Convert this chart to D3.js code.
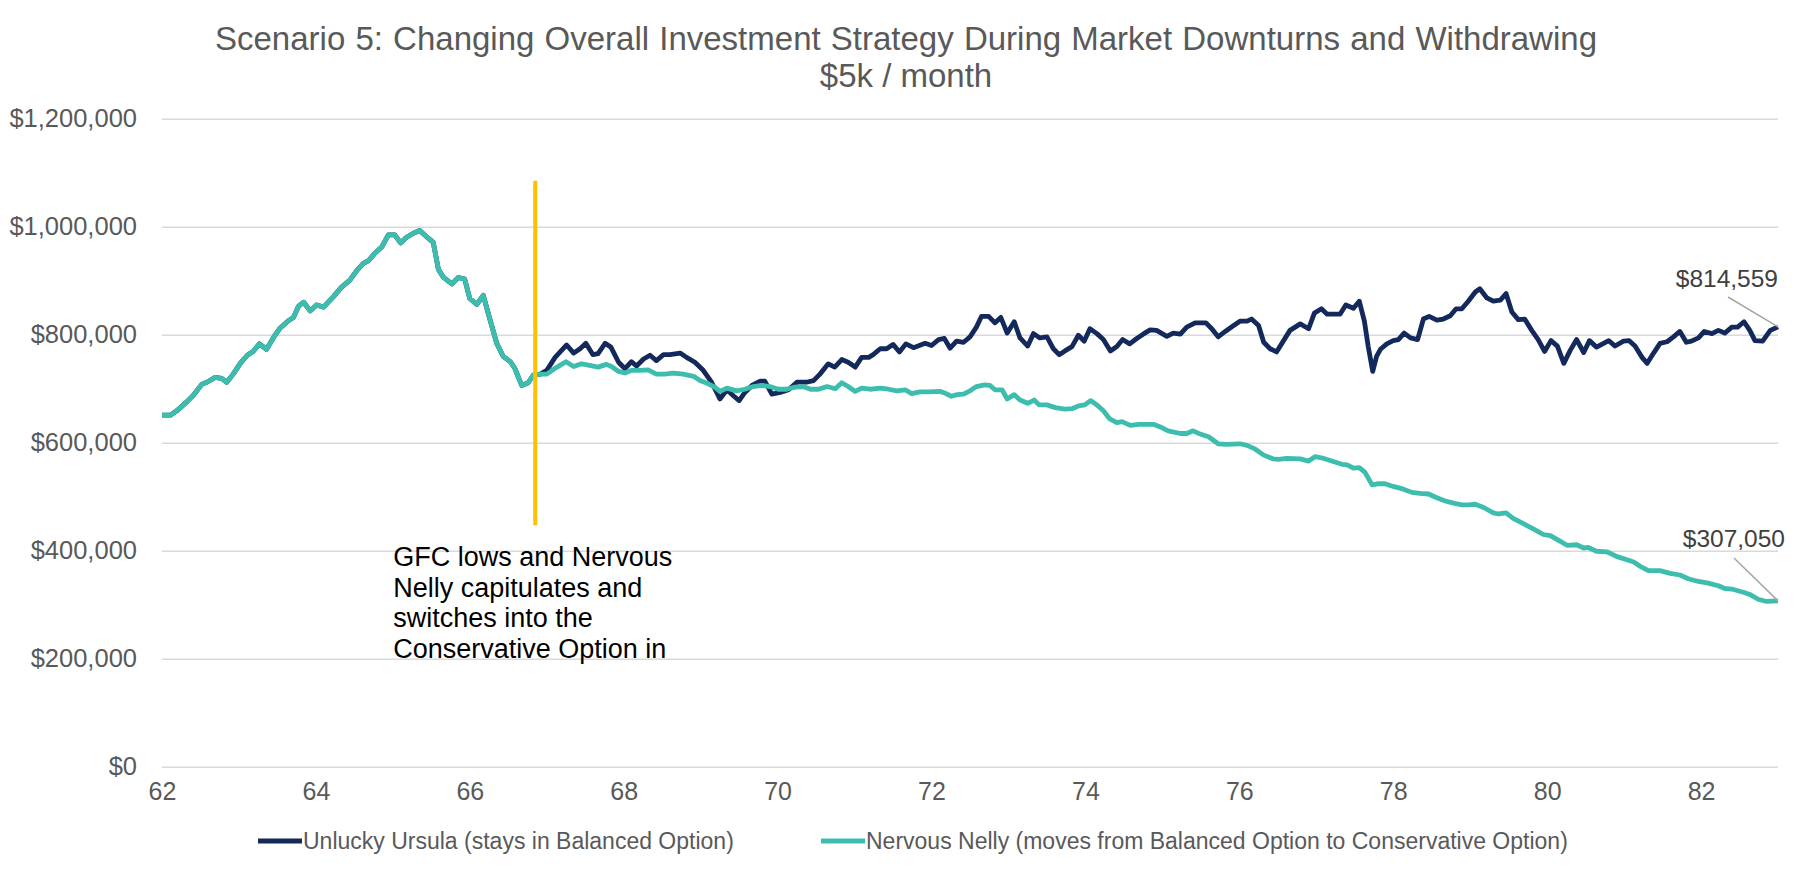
<!DOCTYPE html>
<html>
<head>
<meta charset="utf-8">
<script src="https://cdn.jsdelivr.net/npm/d3@7"></script>
<style>
  body { margin: 0; background: #fff; }
  text { font-family: "Liberation Sans", Arial, sans-serif; }
</style>
</head>
<body>
<div id="plot"></div>
<script>
// values in $k, [month since age 62, value]
const sharedPath = [
  [0, 651], [1.3, 651], [2.3, 659], [3.9, 676], [4.9, 688], [6.2, 708], [7, 712], [8.3, 721],
  [9.3, 719], [10.1, 712], [11.1, 727], [12.2, 747], [13.3, 762], [14.2, 769], [15.2, 783],
  [16.3, 773], [17.4, 795], [18.4, 812], [19.7, 826], [20.5, 832], [21.3, 853], [22.1, 860],
  [23.1, 844], [24.1, 855], [25.2, 851], [26.7, 870], [28, 888], [29.3, 901], [30.4, 919],
  [31.4, 932], [32.2, 937], [33.2, 951], [34.3, 963], [35.3, 985], [36.3, 985], [37.2, 970],
  [38.1, 980], [39.2, 988], [40.2, 993], [41.3, 981], [42.3, 971], [43.1, 921], [43.9, 906],
  [45.2, 894], [46.2, 906], [47.2, 903], [48, 867], [49.1, 856], [50.1, 873], [51.1, 830],
  [52.2, 784], [53.2, 760], [54.3, 750], [55, 738], [56.1, 706], [57.1, 711], [57.9, 725], [59, 727]
];

const ursulaAfter = [
  [60, 734], [61.3, 758], [63.1, 781], [64.2, 766], [65.2, 774], [66.1, 784], [67.2, 763], [68, 765],
  [69.1, 784], [70, 777], [71.2, 749], [72.2, 737], [73.2, 750], [74, 742], [75.1, 755], [76.1, 762],
  [77.1, 752], [78.2, 763], [79.2, 763], [80.8, 766], [81.8, 758], [83.1, 749], [84.4, 734],
  [85.7, 712], [87, 681], [88.1, 698], [89.1, 687], [90, 678], [90.9, 693], [92, 706], [93.3, 714],
  [94, 714], [95.1, 690], [96.4, 693], [97.7, 698], [99, 712], [100.5, 712], [101.6, 715],
  [102.6, 727], [103.9, 746], [104.9, 740], [106, 754], [107, 749], [108.1, 740], [109.1, 758],
  [110.2, 758], [110.9, 763], [112, 774], [113, 774], [114, 782], [115, 768], [116, 783],
  [117.2, 776], [117.9, 779], [119, 784], [120, 780], [121.1, 791], [122, 793], [122.9, 775],
  [123.9, 788], [125, 786], [126, 796], [127, 814], [127.8, 834], [128.9, 834], [129.9, 822],
  [130.8, 832], [131.8, 803], [132.9, 824], [133.8, 794], [135, 779], [135.9, 802], [136.9, 794],
  [138, 796], [139, 774], [139.9, 763], [140.8, 770], [141.9, 778], [142.9, 799], [143.8, 788],
  [144.7, 811], [145.8, 802], [146.8, 791], [147.9, 770], [148.9, 778], [149.8, 791], [150.9, 783],
  [152, 793], [153, 801], [154.1, 809], [155.1, 808], [156.7, 797], [157.7, 803], [158.8, 801],
  [159.8, 814], [161.1, 822], [162.8, 822], [163.7, 811], [164.7, 796], [165.8, 806], [167, 816],
  [168.1, 825], [169.2, 825], [169.9, 829], [171, 817], [171.8, 786], [172.8, 774], [173.8, 768],
  [174.9, 789], [175.9, 808], [177.5, 820], [178.8, 811], [179.7, 840], [180.8, 848], [181.7, 838],
  [183.7, 838], [184.6, 855], [185.8, 849], [186.7, 862], [187.5, 825], [188.1, 778], [188.8, 732],
  [189.4, 760], [190, 773], [191, 783], [192, 789], [192.8, 791], [193.7, 803], [194.7, 794],
  [195.8, 791], [196.7, 829], [197.6, 834], [198.8, 827], [199.8, 829], [200.9, 835], [201.8, 848],
  [202.7, 848], [203.7, 862], [204.8, 879], [205.5, 885], [206.6, 868], [207.6, 862], [208.7, 864],
  [209.6, 876], [210.5, 842], [211.5, 828], [212.5, 829], [213.6, 808], [214.6, 791], [215.6, 769],
  [216.6, 789], [217.6, 779], [218.6, 747], [219.6, 771], [220.6, 791], [221.7, 767], [222.6, 789],
  [223.7, 777], [224.8, 784], [225.6, 789], [226.6, 779], [227.9, 788], [228.8, 789], [229.7, 779],
  [230.8, 758], [231.6, 747], [232.6, 766], [233.6, 784], [234.7, 787], [235.7, 796], [236.7, 806],
  [237.7, 786], [238.5, 788], [239.6, 794], [240.5, 806], [241.7, 802], [242.7, 808], [243.7, 803],
  [244.8, 814], [245.7, 814], [246.7, 824], [247.6, 808], [248.4, 789], [249.6, 788], [250.8, 808],
  [252, 814.559]
];

const nellyAfter = [
  [60, 727], [61.6, 740], [63, 750], [64.2, 741], [65.4, 746], [66.7, 743], [68, 740], [69.3, 745],
  [70.1, 741], [71.2, 732], [72.2, 729], [73.2, 734], [74.5, 734], [75.8, 735], [77.1, 727],
  [78.4, 727], [79.7, 729], [81.3, 727], [82.9, 723], [83.9, 715], [85.2, 709], [86.2, 703],
  [87, 695], [88.1, 701], [89.6, 696], [90.9, 699], [92.2, 704], [93.5, 706], [94.8, 704],
  [96.1, 699], [97.4, 699], [98.7, 703], [100, 704], [101.1, 699], [102.4, 699], [103.7, 704],
  [105, 700], [106, 711], [107, 704], [108.1, 695], [109.1, 701], [110.4, 699], [112, 701],
  [113.3, 699], [114.6, 696], [115.9, 698], [116.9, 691], [118.2, 694], [119.5, 694], [121.3, 695],
  [122.1, 692], [123.1, 686], [124, 689], [125, 690], [126, 696], [127, 704], [128.3, 707],
  [129.1, 706], [129.9, 698], [131, 698], [131.8, 681], [132.9, 689], [133.8, 679], [135, 673],
  [136, 679], [136.8, 670], [138, 670], [139.3, 665], [140.8, 662], [141.9, 663], [142.9, 668],
  [143.9, 670], [144.8, 678], [145.8, 670], [146.8, 659], [147.8, 644], [148.9, 637], [149.7, 639],
  [151, 632], [152.3, 634], [154.6, 634], [155.9, 628], [156.9, 622], [158.8, 617], [159.8, 617],
  [160.8, 622], [161.9, 616], [163.2, 611], [164.7, 598], [166, 597], [168.1, 598], [169.2, 595],
  [170.5, 588], [171.8, 577], [173.3, 570], [174.1, 569], [175.4, 571], [177.5, 570], [178.8, 566],
  [179.8, 574], [180.8, 572], [182.4, 566], [184, 560], [184.8, 559], [185.8, 553], [186.7, 554],
  [187.6, 545], [188.7, 522], [189.7, 524], [190.7, 524], [192, 519], [193.6, 514], [194.9, 508],
  [196.2, 506], [197.5, 505], [198.8, 498], [200.1, 492], [201.4, 488], [202.7, 485], [203.7, 485],
  [204.8, 486], [206.1, 480], [207.6, 470], [208.4, 468], [209.6, 470], [210.7, 460], [212.3, 450],
  [213.9, 440], [215.4, 430], [216.5, 428], [217.8, 419], [219.1, 410], [220.6, 411], [221.7, 405],
  [222.4, 406], [223.7, 399], [225.3, 398], [226.9, 389], [228.2, 384], [229.5, 379], [230.5, 371],
  [231.8, 363], [233.6, 363], [235.2, 358], [236.7, 355], [238, 348], [239.6, 343], [241.1, 340],
  [242.7, 335], [243.7, 330], [244.8, 329], [246.6, 323], [247.6, 319], [248.9, 310], [250.2, 306],
  [252, 307.05]
];

const seriesNames = [
  "Unlucky Ursula (stays in Balanced Option)",
  "Nervous Nelly (moves from Balanced Option to Conservative Option)"
];
const seriesColors = ["#14295b", "#3dbdad"];
const yTicks = [0, 200000, 400000, 600000, 800000, 1000000, 1200000];
const xTicks = [62, 64, 66, 68, 70, 72, 74, 76, 78, 80, 82];
const switchAge = 66.85;
const switchRange = [447000, 1085000];
const noteLines = ["GFC lows and Nervous", "Nelly capitulates and", "switches into the", "Conservative Option in"];

const W = 1812, H = 873;
const margin = { top: 118.7, right: 34, bottom: 106.3, left: 162 };

const svg = d3.select("#plot").append("svg").attr("width", W).attr("height", H);

const x = d3.scaleLinear().domain([62, 83]).range([margin.left, W - margin.right]);
const y = d3.scaleLinear().domain([0, 1200000]).range([H - margin.bottom, margin.top]);

// title
svg.append("text")
  .attr("x", 906).attr("y", 50)
  .attr("text-anchor", "middle")
  .style("font-size", "33px").style("fill", "#595959").style("word-spacing", "1px")
  .text("Scenario 5: Changing Overall Investment Strategy During Market Downturns and Withdrawing");
svg.append("text")
  .attr("x", 906).attr("y", 87)
  .attr("text-anchor", "middle")
  .style("font-size", "33px").style("fill", "#595959")
  .text("$5k / month");

// y grid + labels
const yAxis = svg.append("g")
  .attr("transform", `translate(${margin.left},0)`)
  .call(d3.axisLeft(y).tickValues(yTicks)
    .tickSize(-(W - margin.left - margin.right))
    .tickPadding(25)
    .tickFormat(d => "$" + d3.format(",")(d)));
yAxis.select(".domain").remove();
yAxis.selectAll(".tick line").attr("stroke", "#d9d9d9").attr("stroke-width", 1.6);
yAxis.selectAll(".tick text").style("font-size", "25.5px").style("fill", "#595959")
  .style("font-family", "'Liberation Sans', Arial, sans-serif");

// x labels
const xAxis = svg.append("g")
  .attr("transform", `translate(0,${H - margin.bottom})`)
  .call(d3.axisBottom(x).tickValues(xTicks).tickSize(0).tickPadding(16));
xAxis.select(".domain").remove();
xAxis.selectAll(".tick text").style("font-size", "25px").style("fill", "#595959")
  .style("font-family", "'Liberation Sans', Arial, sans-serif");

const line = d3.line()
  .x(d => x(62 + d[0] / 12))
  .y(d => y(d[1] * 1000));

const ursula = sharedPath.concat(ursulaAfter);
const nelly = sharedPath.concat(nellyAfter);

svg.append("path").datum(ursula)
  .attr("d", line).attr("fill", "none")
  .attr("stroke", seriesColors[0]).attr("stroke-width", 4.8).attr("stroke-linejoin", "round");
svg.append("path").datum(nelly)
  .attr("d", line).attr("fill", "none")
  .attr("stroke", seriesColors[1]).attr("stroke-width", 4.8).attr("stroke-linejoin", "round");

// switch marker
svg.append("line")
  .attr("x1", x(switchAge)).attr("x2", x(switchAge))
  .attr("y1", y(switchRange[0])).attr("y2", y(switchRange[1]))
  .attr("stroke", "#ffc000").attr("stroke-width", 4);

const note = svg.append("text")
  .attr("x", x(switchAge) - 142).attr("y", 566)
  .style("font-size", "27px").style("fill", "#000");
note.selectAll("tspan").data(noteLines).enter().append("tspan")
  .attr("x", x(switchAge) - 142)
  .attr("dy", (d, i) => i === 0 ? 0 : 30.7)
  .text(d => d);

// end labels
const endLabels = [
  { d: ursula[ursula.length - 1], text: "$814,559", tx: 1778, ty: 287, lx: 1728, ly: 297 },
  { d: nelly[nelly.length - 1], text: "$307,050", tx: 1785, ty: 547, lx: 1734, ly: 558 }
];
endLabels.forEach(l => {
  svg.append("line")
    .attr("x1", l.lx).attr("y1", l.ly)
    .attr("x2", x(62 + l.d[0] / 12)).attr("y2", y(l.d[1] * 1000))
    .attr("stroke", "#a6a6a6").attr("stroke-width", 1.5);
  svg.append("text")
    .attr("x", l.tx).attr("y", l.ty)
    .attr("text-anchor", "end")
    .style("font-size", "24.5px").style("fill", "#404040")
    .text(l.text);
});

// legend
const legendX = [258, 821];
seriesNames.forEach((name, i) => {
  svg.append("line")
    .attr("x1", legendX[i]).attr("x2", legendX[i] + 44)
    .attr("y1", 841).attr("y2", 841)
    .attr("stroke", seriesColors[i]).attr("stroke-width", 5);
  svg.append("text")
    .attr("x", legendX[i] + 45).attr("y", 841).attr("dy", "0.35em")
    .style("font-size", "23px").style("fill", "#595959")
    .text(name);
});
</script>
</body>
</html>
